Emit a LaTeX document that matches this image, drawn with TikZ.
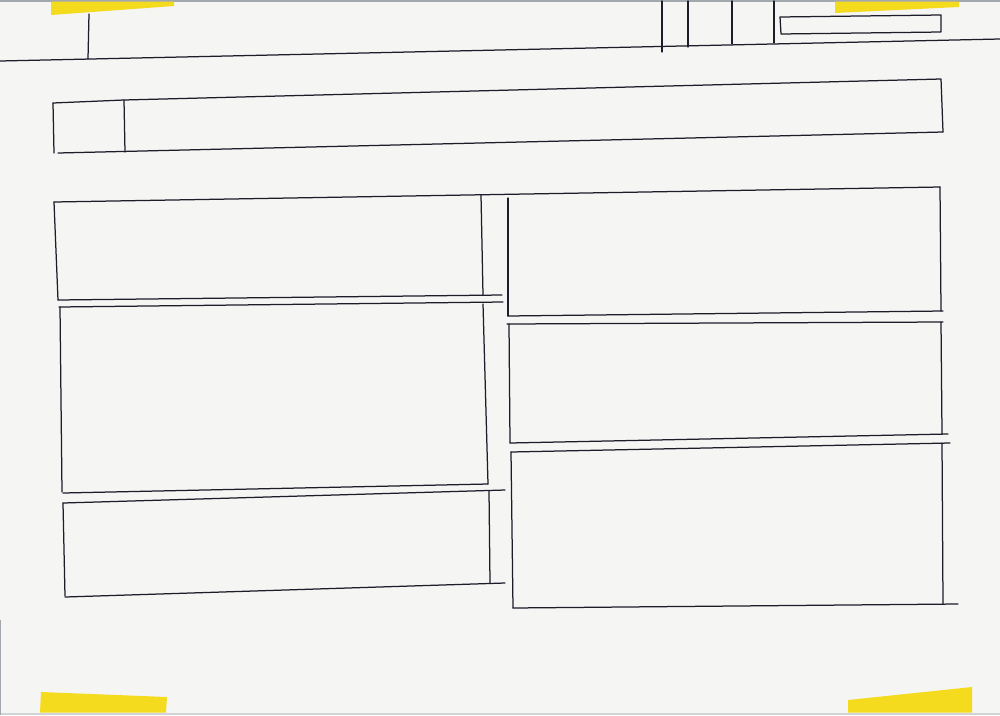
\documentclass[tikz,border=0pt]{standalone}
\usepackage{tikz}
\definecolor{paper}{HTML}{F5F5F4}
\definecolor{ink}{HTML}{1C1C2A}
\definecolor{tape}{HTML}{F5DB1E}
\definecolor{scanedge}{HTML}{7C838C}
\tikzset{
  pen/.style={draw=ink, line width=1.25pt, line cap=round, line join=round},
  tapestrip/.style={fill=tape, draw=none},
}
\begin{document}
\begin{tikzpicture}[x=1pt,y=-1pt]
% paper
\fill[paper] (0,0) rectangle (1000,715);
\useasboundingbox (0,0) rectangle (1000,715);
% scan edges
\fill[scanedge!70] (0,0) rectangle (1000,1.5);
\fill[scanedge!35] (0,712.5) rectangle (1000,715);
\fill[scanedge!70] (0,620) rectangle (1.2,715);
% tapes
\fill[tapestrip] (51,1.5) -- (174,1.5) -- (174,6) -- (51,15) -- cycle;
\fill[tapestrip] (835,1.5) -- (959,1.5) -- (959,7) -- (835,13) -- cycle;
\fill[tapestrip] (40,712.5) -- (41,692) -- (167,697) -- (166,712.5) -- cycle;
\fill[tapestrip] (848,712.5) -- (848,700) -- (972,687) -- (972,712.5) -- cycle;

% top strip
\draw[pen] (0,61) -- (1000,39);
\draw[pen] (89,14) -- (88,59);
\draw[pen] (662,1) -- (662,52);
\draw[pen] (688,1) -- (688,47);
\draw[pen] (732,1) -- (732,44);
\draw[pen] (774,1) -- (774,43);
\draw[pen] (780,17) -- (941,15) -- (941,32) -- (781,34) -- cycle;

% header bar
\draw[pen] (53,103) -- (124,100) -- (941,79) -- (943,132);
\draw[pen] (53,103) -- (54,153);
\draw[pen] (58,153) -- (943,132);
\draw[pen] (124,100) -- (125,152);

% left column
\draw[pen] (54,202) -- (940,187);
\draw[pen] (54,202) -- (58,300);
\draw[pen] (481,195) -- (483,295);
\draw[pen] (58,300) -- (502,295);
\draw[pen] (59,307) -- (503,302);
\draw[pen] (60,307) -- (62,492);
\draw[pen] (483,304) -- (488,484);
\draw[pen] (63,493) -- (488,484);
\draw[pen] (63,503) -- (505,490);
\draw[pen] (63,503) -- (65,596);
\draw[pen] (489,491) -- (490,583);
\draw[pen] (65,597) -- (505,583);

% right column
\draw[pen] (508,198) -- (508,316);
\draw[pen] (940,187) -- (941,311);
\draw[pen] (508,316) -- (943,311);
\draw[pen] (507,324) -- (943,322);
\draw[pen] (509,324) -- (510,443);
\draw[pen] (941,322) -- (942,434);
\draw[pen] (510,443) -- (948,434);
\draw[pen] (511,452) -- (950,443);
\draw[pen] (511,452) -- (513,608);
\draw[pen] (942,443) -- (943,604);
\draw[pen] (513,608) -- (958,604);
\end{tikzpicture}
\end{document}
